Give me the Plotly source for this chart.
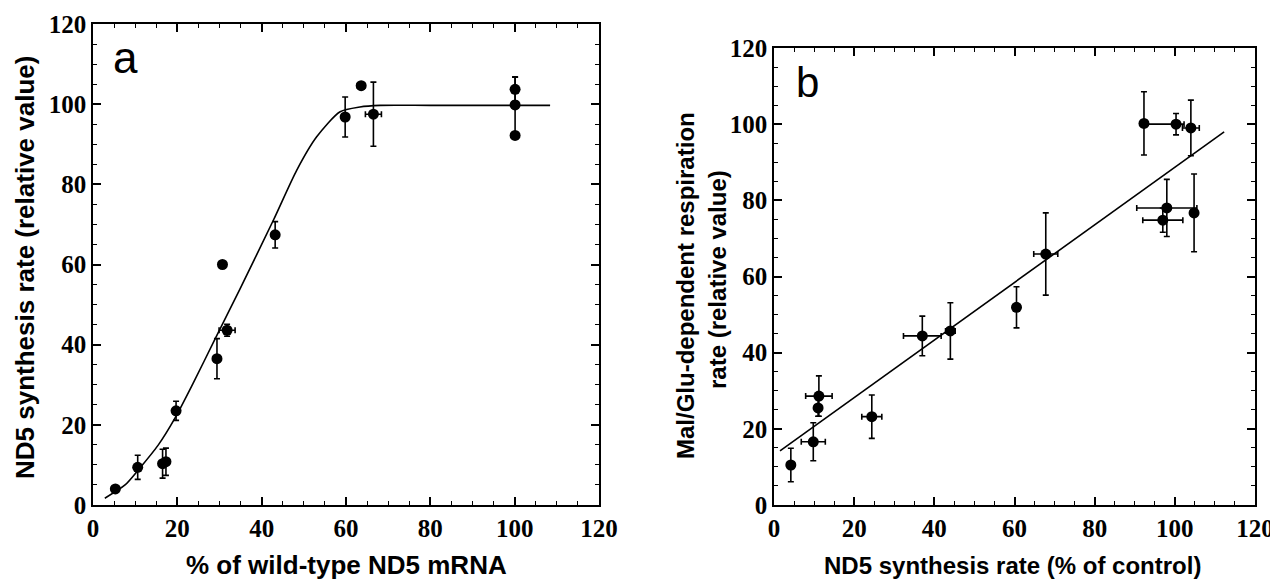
import plotly.graph_objects as go

# ---------------- Panel a data ----------------
a_x = [5.3, 10.6, 16.5, 17.3, 19.7, 29.4, 31.8, 30.7, 43.2, 59.8, 63.6, 66.5, 100.1, 100.1, 100.1]
a_y = [4.0, 9.4, 10.3, 10.8, 23.5, 36.5, 43.6, 60.0, 67.4, 96.8, 104.6, 97.5, 103.7, 99.8, 92.2]
a_yerr = [0.5, 3.0, 3.6, 3.4, 2.4, 5.0, 1.5, 0.6, 3.3, 5.0, 0.8, 8.0, 3.0, 7.0, 0.0]
a_xerr = [0, 0, 0, 0, 0, 0, 1.9, 0, 0, 0, 0.9, 1.9, 0, 0, 0]

# fitted curve
a_fit_x = [2.8, 7.6, 10.7, 15.5, 19.4, 23.7, 28.9, 34.9, 42.8, 48.3, 53.0, 58.6, 63.3, 68.1, 80.0, 108.4]
a_fit_y = [1.7, 5.0, 8.7, 15.0, 21.6, 30.3, 41.3, 54.0, 71.1, 83.5, 91.8, 98.1, 99.3, 99.7, 99.7, 99.7]

# ---------------- Panel b data ----------------
b_x = [4.2, 9.8, 11.0, 11.2, 24.4, 37.0, 44.0, 60.5, 67.8, 92.3, 100.3, 104.0, 98.0, 97.0, 104.8]
b_y = [10.5, 16.6, 25.5, 28.6, 23.2, 44.4, 45.7, 51.9, 65.9, 100.2, 100.0, 99.0, 78.0, 74.8, 76.7]
b_yerr = [4.4, 5.0, 2.2, 5.3, 5.7, 5.2, 7.4, 5.4, 10.8, 8.3, 2.8, 7.3, 7.5, 3.2, 10.2]
b_xerr_plus = [0, 3.0, 0, 3.3, 2.5, 4.7, 1.2, 0.8, 3.0, 0, 2.0, 2.1, 7.5, 5.0, 0]
b_xerr_minus = [0, 3.0, 0, 3.3, 2.5, 4.7, 1.2, 0.8, 3.0, 0, 8.0, 2.1, 7.5, 5.0, 0]

# regression line
b_fit_x = [1.5, 112.3]
b_fit_y = [14.2, 98.0]

ticks_major = [0, 20, 40, 60, 80, 100, 120]

W, H = 1270, 574
OFF = 8  # page body margin


def PX(px):
    return (px - OFF) / W


def PY(py):
    return 1 - (py - OFF) / H


fig = go.Figure()

fig.add_trace(go.Scatter(
    x=a_fit_x, y=a_fit_y, mode="lines",
    line=dict(color="black", width=1.6, shape="spline", smoothing=0.7),
    xaxis="x", yaxis="y", hoverinfo="skip"))
fig.add_trace(go.Scatter(
    x=a_x, y=a_y, mode="markers",
    marker=dict(color="black", size=11),
    error_y=dict(type="data", array=a_yerr, color="black", thickness=1.6, width=3),
    error_x=dict(type="data", array=a_xerr, color="black", thickness=1.6, width=3),
    xaxis="x", yaxis="y"))

fig.add_trace(go.Scatter(
    x=b_fit_x, y=b_fit_y, mode="lines", line=dict(color="black", width=1.6),
    xaxis="x2", yaxis="y2", hoverinfo="skip"))
fig.add_trace(go.Scatter(
    x=b_x, y=b_y, mode="markers",
    marker=dict(color="black", size=11),
    error_y=dict(type="data", array=b_yerr, color="black", thickness=1.6, width=3),
    error_x=dict(type="data", symmetric=False, array=b_xerr_plus, arrayminus=b_xerr_minus,
                 color="black", thickness=1.6, width=3),
    xaxis="x2", yaxis="y2"))

tickfont = dict(family="Liberation Serif", size=25, color="black", weight="bold")


def axis_style(domain, anchor):
    return dict(
        domain=domain, anchor=anchor, range=[0, 120], automargin=False,
        tickvals=ticks_major, ticks="inside", ticklen=8, tickwidth=1.5, tickcolor="black",
        minor=dict(ticks="inside", dtick=5, ticklen=4, tickwidth=1.2, tickcolor="black"),
        showline=True, linecolor="black", linewidth=1.6, mirror="ticks",
        showgrid=False, zeroline=False, tickfont=tickfont,
    )


fig.update_layout(
    width=W, height=H,
    margin=dict(l=0, r=0, t=0, b=0),
    plot_bgcolor="white", paper_bgcolor="white",
    showlegend=False,
    xaxis=axis_style([PX(93), PX(599)], "y"),
    yaxis=axis_style([PY(505), PY(24)], "x"),
    xaxis2=axis_style([PX(774), PX(1255)], "y2"),
    yaxis2=axis_style([PY(505), PY(48)], "x2"),
)

title_font_a = dict(family="Liberation Sans", size=26, color="black")
title_font_b = dict(family="Liberation Sans", size=24, color="black")

ann = [
    dict(text="<b>% of wild-type ND5 mRNA</b>", x=PX(346), y=PY(565),
         xref="paper", yref="paper", showarrow=False, font=title_font_a,
         xanchor="center", yanchor="middle"),
    dict(text="<b>ND5 synthesis rate (relative value)</b>", x=PX(25), y=PY(268),
         xref="paper", yref="paper", showarrow=False, font=title_font_a, textangle=-90,
         xanchor="center", yanchor="middle"),
    dict(text="<b>ND5 synthesis rate (% of control)</b>", x=PX(1012), y=PY(565),
         xref="paper", yref="paper", showarrow=False, font=title_font_b,
         xanchor="center", yanchor="middle"),
    dict(text="<b>Mal/Glu-dependent respiration</b>", x=PX(685), y=PY(286),
         xref="paper", yref="paper", showarrow=False, font=title_font_b, textangle=-90,
         xanchor="center", yanchor="middle"),
    dict(text="<b>rate (relative value)</b>", x=PX(717), y=PY(280),
         xref="paper", yref="paper", showarrow=False, font=title_font_b, textangle=-90,
         xanchor="center", yanchor="middle"),
    dict(text="a", x=PX(125), y=PY(58),
         xref="paper", yref="paper", showarrow=False,
         font=dict(family="Liberation Sans", size=44, color="black"),
         xanchor="center", yanchor="middle"),
    dict(text="b", x=PX(807), y=PY(82),
         xref="paper", yref="paper", showarrow=False,
         font=dict(family="Liberation Sans", size=42, color="black"),
         xanchor="center", yanchor="middle"),
]
fig.update_layout(annotations=ann)

fig.write_html("out.html")
